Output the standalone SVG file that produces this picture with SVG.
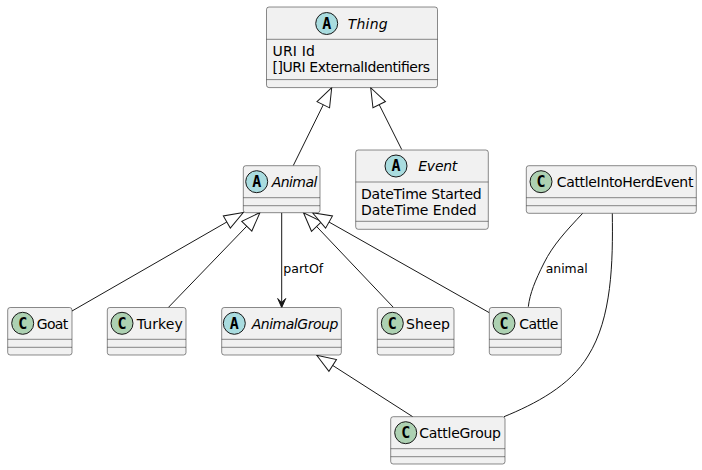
<svg xmlns="http://www.w3.org/2000/svg" width="702" height="470" viewBox="0 0 702 470">
<defs>
<style>
.box{fill:#F1F1F1;stroke:#181818;stroke-width:0.5}
.sep{stroke:#181818;stroke-width:0.5}
.ca{fill:#A9DCDF;stroke:#181818;stroke-width:1}
.cc{fill:#ADD1B2;stroke:#181818;stroke-width:1}
.lt{font-family:"DejaVu Sans Mono","Liberation Mono",monospace;font-weight:bold;font-size:15px;fill:#000;text-anchor:middle}
.t{font-family:"DejaVu Sans","Liberation Sans",sans-serif;font-size:14px;fill:#000}
.it{font-style:italic}
.lbl{font-family:"DejaVu Sans","Liberation Sans",sans-serif;font-size:13px;fill:#000}
.ln{fill:none;stroke:#181818;stroke-width:1}
</style>
<marker id="ext" markerUnits="userSpaceOnUse" orient="auto" refX="0" refY="0" markerWidth="40" markerHeight="40" overflow="visible">
<path d="M0,0 L-19,-7 L-19,7 Z" fill="#FFFFFF" stroke="#181818" stroke-width="1"/>
</marker>
<marker id="arr" markerUnits="userSpaceOnUse" orient="auto" refX="0" refY="0" markerWidth="40" markerHeight="40" overflow="visible">
<path d="M0,0 L-9,-4 L-5,0 L-9,4 Z" fill="#181818" stroke="#181818" stroke-width="1"/>
</marker>
</defs>
<g id="connectors">
<line class="ln" x1="293.3" y1="165.5" x2="331.7" y2="87.7" marker-end="url(#ext)"/>
<line class="ln" x1="401.7" y1="149.5" x2="370.7" y2="87.7" marker-end="url(#ext)"/>
<line class="ln" x1="72" y1="311" x2="243.3" y2="212.5" marker-end="url(#ext)"/>
<line class="ln" x1="168.3" y1="307.5" x2="260" y2="212.5" marker-end="url(#ext)"/>
<line class="ln" x1="393.3" y1="307.3" x2="303.5" y2="212.7" marker-end="url(#ext)"/>
<line class="ln" x1="489.3" y1="312.7" x2="312.5" y2="212.7" marker-end="url(#ext)"/>
<line class="ln" x1="412.7" y1="416.7" x2="316.7" y2="355.2" marker-end="url(#ext)"/>
<line class="ln" x1="281.7" y1="212.7" x2="281.7" y2="307.5" marker-end="url(#arr)"/>
<text class="lbl" x="283.3" y="273.3" textLength="40" lengthAdjust="spacingAndGlyphs">partOf</text>
<path class="ln" d="M582.7,213.3 C566,231 553,245 544,263 C535,281 530,293 528.3,306.7"/>
<text class="lbl" x="545.7" y="272.7" textLength="42" lengthAdjust="spacingAndGlyphs">animal</text>
<path class="ln" d="M612.3,213.3 C613,262 612,318 588,356 C570,386 535,404 504,416.7"/>
</g>
<g id="Thing">
<rect class="box" x="266.5" y="7" width="171" height="80.6" rx="2.5"/>
<ellipse class="ca" cx="326.7" cy="23.5" rx="11" ry="11"/>
<text class="lt" x="326.7" y="28.8">A</text>
<text class="t it" x="347.7" y="28.5" textLength="40">Thing</text>
<line class="sep" x1="266.5" y1="39.3" x2="437.5" y2="39.3"/>
<text class="t" x="272.5" y="56" textLength="42.3">URI Id</text>
<text class="t" x="272.5" y="72.3" textLength="157.6">[]URI ExternalIdentifiers</text>
<line class="sep" x1="266.5" y1="79.6" x2="437.5" y2="79.6"/>
</g>
<g id="Event">
<rect class="box" x="355.7" y="150" width="132.6" height="79.3" rx="2.5"/>
<ellipse class="ca" cx="396" cy="166" rx="11" ry="11"/>
<text class="lt" x="396" y="171.3">A</text>
<text class="t it" x="418.3" y="171.3" textLength="39">Event</text>
<line class="sep" x1="355.7" y1="182" x2="488.3" y2="182"/>
<text class="t" x="361" y="198.5" textLength="120.7">DateTime Started</text>
<text class="t" x="361" y="214.8" textLength="115.7">DateTime Ended</text>
<line class="sep" x1="355.7" y1="221.3" x2="488.3" y2="221.3"/>
</g>
<g id="Animal">
<rect class="box" x="243.3" y="165.7" width="76.7" height="47" rx="2.5"/>
<ellipse class="ca" cx="256.7" cy="181.7" rx="11" ry="11"/>
<text class="lt" x="256.7" y="187">A</text>
<text class="t it" x="271.7" y="187" textLength="45.6">Animal</text>
<line class="sep" x1="243.3" y1="197.7" x2="320" y2="197.7"/>
<line class="sep" x1="243.3" y1="205.7" x2="320" y2="205.7"/>
</g>
<g id="CattleIntoHerdEvent">
<rect class="box" x="526.3" y="165.7" width="170" height="47.6" rx="2.5"/>
<ellipse class="cc" cx="541" cy="181.7" rx="11" ry="11"/>
<text class="lt" x="541" y="187">C</text>
<text class="t" x="556.7" y="187" textLength="136.7">CattleIntoHerdEvent</text>
<line class="sep" x1="526.3" y1="197.7" x2="696.3" y2="197.7"/>
<line class="sep" x1="526.3" y1="205.7" x2="696.3" y2="205.7"/>
</g>
<g id="Goat">
<rect class="box" x="7.7" y="307.5" width="64.3" height="47.5" rx="2.5"/>
<ellipse class="cc" cx="22.7" cy="323.3" rx="11" ry="11"/>
<text class="lt" x="22.7" y="328.6">C</text>
<text class="t" x="36.7" y="328.5" textLength="31.6">Goat</text>
<line class="sep" x1="7.7" y1="339.3" x2="72" y2="339.3"/>
<line class="sep" x1="7.7" y1="347.3" x2="72" y2="347.3"/>
</g>
<g id="Turkey">
<rect class="box" x="107.3" y="307.5" width="78.7" height="47.5" rx="2.5"/>
<ellipse class="cc" cx="122" cy="323.3" rx="11" ry="11"/>
<text class="lt" x="122" y="328.6">C</text>
<text class="t" x="136.7" y="328.5" textLength="46">Turkey</text>
<line class="sep" x1="107.3" y1="339.3" x2="186" y2="339.3"/>
<line class="sep" x1="107.3" y1="347.3" x2="186" y2="347.3"/>
</g>
<g id="AnimalGroup">
<rect class="box" x="221.7" y="307.5" width="119.6" height="47.5" rx="2.5"/>
<ellipse class="ca" cx="234.3" cy="323.3" rx="11" ry="11"/>
<text class="lt" x="234.3" y="328.6">A</text>
<text class="t it" x="251.7" y="328.5" textLength="86.6">AnimalGroup</text>
<line class="sep" x1="221.7" y1="339.3" x2="341.3" y2="339.3"/>
<line class="sep" x1="221.7" y1="347.3" x2="341.3" y2="347.3"/>
</g>
<g id="Sheep">
<rect class="box" x="377.3" y="307.5" width="76.7" height="47.5" rx="2.5"/>
<ellipse class="cc" cx="392.3" cy="323.3" rx="11" ry="11"/>
<text class="lt" x="392.3" y="328.6">C</text>
<text class="t" x="406" y="328.5" textLength="44">Sheep</text>
<line class="sep" x1="377.3" y1="339.3" x2="454" y2="339.3"/>
<line class="sep" x1="377.3" y1="347.3" x2="454" y2="347.3"/>
</g>
<g id="Cattle">
<rect class="box" x="489.3" y="307.5" width="72" height="47.5" rx="2.5"/>
<ellipse class="cc" cx="504" cy="323.3" rx="11" ry="11"/>
<text class="lt" x="504" y="328.6">C</text>
<text class="t" x="519.3" y="328.5" textLength="39">Cattle</text>
<line class="sep" x1="489.3" y1="339.3" x2="561.3" y2="339.3"/>
<line class="sep" x1="489.3" y1="347.3" x2="561.3" y2="347.3"/>
</g>
<g id="CattleGroup">
<rect class="box" x="390.7" y="416.7" width="114.3" height="47.3" rx="2.5"/>
<ellipse class="cc" cx="405.7" cy="432.7" rx="11" ry="11"/>
<text class="lt" x="405.7" y="438">C</text>
<text class="t" x="419.3" y="438" textLength="81.7">CattleGroup</text>
<line class="sep" x1="390.7" y1="448.7" x2="505" y2="448.7"/>
<line class="sep" x1="390.7" y1="456.7" x2="505" y2="456.7"/>
</g>
</svg>
